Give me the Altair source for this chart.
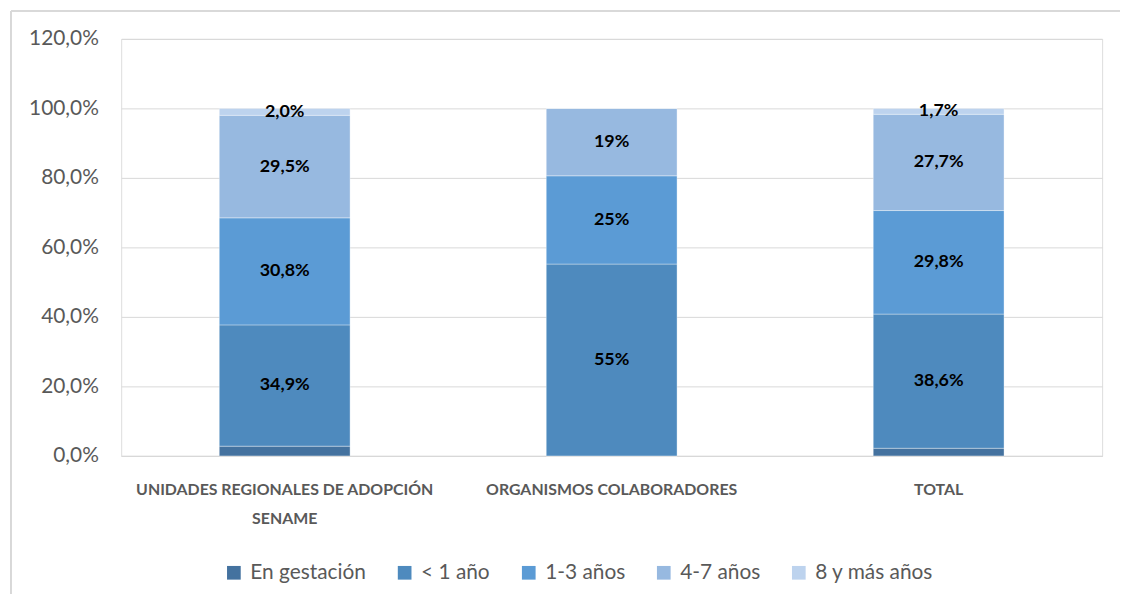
import altair as alt
import pandas as pd

categories = ["UNIDADES REGIONALES DE ADOPCIÓN|SENAME", "ORGANISMOS COLABORADORES", "TOTAL"]
series = ["En gestación", "< 1 año", "1-3 años", "4-7 años", "8  y más años"]
colors = ["#44729F", "#4E8ABE", "#5B9BD5", "#97B9E0", "#BDD3EE"]

unidades = [2.8, 34.9, 30.8, 29.5, 2.0]
organismos = [0.0, 55.2, 25.4, 19.4, 0.0]
total = [2.2, 38.6, 29.8, 27.7, 1.7]

unidades_lbl = ["", "34,9%", "30,8%", "29,5%", "2,0%"]
organismos_lbl = ["", "55%", "25%", "19%", ""]
total_lbl = ["", "38,6%", "29,8%", "27,7%", "1,7%"]

rows = []
for cat, vals, lbls in zip(categories, [unidades, organismos, total],
                           [unidades_lbl, organismos_lbl, total_lbl]):
    cum = 0.0
    for i, (s, v, l) in enumerate(zip(series, vals, lbls)):
        rows.append({"cat": cat, "serie": s, "orden": i, "valor": v,
                     "mid": cum + v / 2, "label": l})
        cum += v
df = pd.DataFrame(rows)

FONT = "Lato"
GRAY = "#595959"

x_enc = alt.X("cat:N", sort=categories, title=None,
              scale=alt.Scale(paddingInner=0.6, paddingOuter=0.3),
              axis=alt.Axis(labelAngle=0, labelFont=FONT, labelFontSize=16,
                            labelFontWeight="bold", labelColor=GRAY, labelLimit=0,
                            labelPadding=26, labelLineHeight=29, ticks=False,
                            domainColor="#D9D9D9", domainWidth=1,
                            labelExpr="split(datum.value, '|')"))

bars = alt.Chart(df).mark_bar(stroke="white", strokeWidth=0.6, strokeOpacity=0.6).encode(
    x=x_enc,
    y=alt.Y("valor:Q", stack="zero", title=None,
            scale=alt.Scale(domain=[0, 120], nice=False),
            axis=alt.Axis(values=[0, 20, 40, 60, 80, 100, 120], domain=False, ticks=False,
                          labelFont=FONT, labelFontSize=21, labelColor=GRAY,
                          labelPadding=23, gridColor="#D9D9D9", gridWidth=1,
                          labelExpr="replace(format(datum.value, '.1f'), '.', ',') + '%'")),
    color=alt.Color("serie:N", sort=series,
                    scale=alt.Scale(domain=series, range=colors),
                    legend=alt.Legend(title=None, orient="none", direction="horizontal",
                                      legendX=103, legendY=527, symbolType="square",
                                      symbolSize=190, symbolStrokeWidth=0,
                                      labelFont=FONT, labelFontSize=21, labelColor=GRAY,
                                      labelOffset=6, columnPadding=28, labelLimit=0)),
    order=alt.Order("orden:Q"),
)

text = alt.Chart(df).mark_text(font=FONT, fontSize=18, fontWeight="bold",
                               color="black").encode(
    x=alt.X("cat:N", sort=categories),
    y=alt.Y("mid:Q"),
    text="label:N",
)

border_top = alt.Chart(df).mark_rule(color="#D9D9D9", strokeWidth=1.5).encode(
    x=alt.value(-111), x2=alt.value(1010), y=alt.value(-28))
border_left = alt.Chart(df).mark_rule(color="#D9D9D9", strokeWidth=1.5).encode(
    x=alt.value(-111), y=alt.value(-28), y2=alt.value(570))

chart = alt.layer(bars, text, border_top, border_left).properties(
    width=988, height=420,
    autosize=alt.AutoSizeParams(type="none"),
    padding={"left": 114, "top": 29, "right": 18, "bottom": 137},
).configure_view(stroke=None).configure(background="white")

chart.save("out.html", embed_options={"renderer": "svg", "actions": False})
